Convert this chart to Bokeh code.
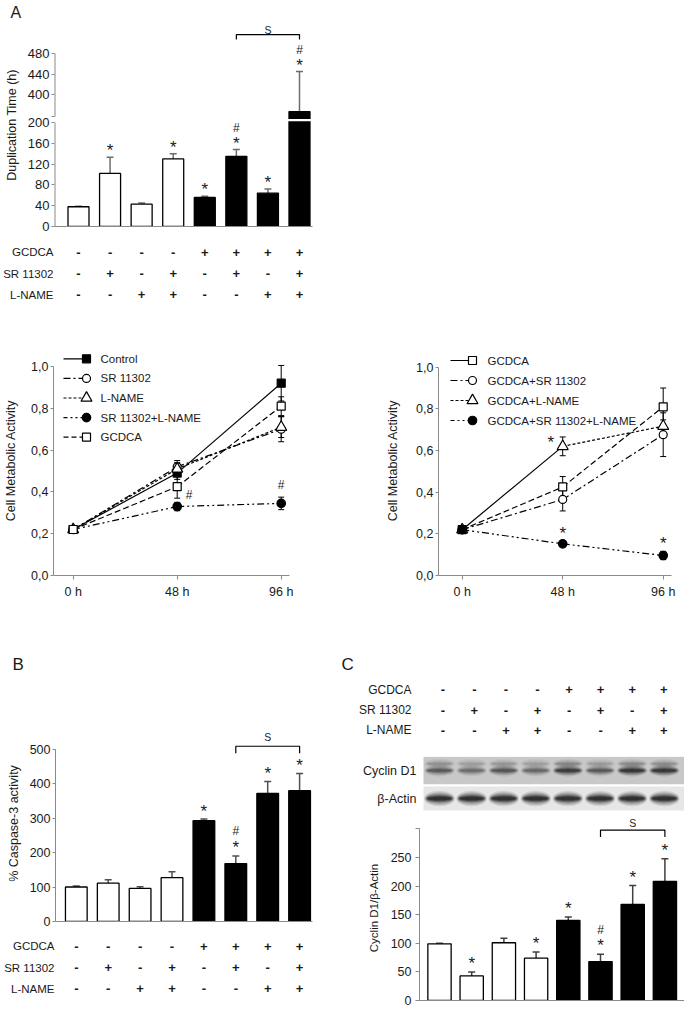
from bokeh.plotting import figure
from bokeh.layouts import column, row
from bokeh.models import (Range1d, FactorRange, FixedTicker, ColumnDataSource, Whisker,
                          TeeHead, CustomJSTickFormatter, Spacer)
from bokeh.transform import dodge
from bokeh.core.properties import value
from bokeh.embed import file_html
from bokeh.resources import INLINE

FONT = "Liberation Sans"
GRAY = "#8a8a8a"
INK = "#1a1a1a"

# ---------------- data ----------------
conditions = ["GCDCA", "SR 11302", "L-NAME"]
gcdca_on = ["-", "-", "-", "-", "+", "+", "+", "+"]
sr_on = ["-", "+", "-", "+", "-", "+", "-", "+"]
lname_on = ["-", "-", "+", "+", "-", "-", "+", "+"]

# Panel A: duplication time (h), broken axis 200 -> 400
dup_time = [38, 102, 43, 130, 56, 135, 64, 368]
dup_err = [1, 31, 2, 10, 2, 13, 8, 77]
dup_star = [0, 1, 0, 1, 1, 1, 1, 1]
dup_hash = [0, 0, 0, 0, 0, 1, 0, 1]
dup_ticks_low = [0, 40, 80, 120, 160, 200]
dup_ticks_high = [400, 440, 480]
dup_upper_start = 358
dup_sig_pair = [5, 7]
dup_sig_level = 516

# Panel A: cell metabolic activity
hours = [0, 48, 96]
act_ticks = [0.0, 0.2, 0.4, 0.6, 0.8, 1.0]

ctrl = [0.22, 0.49, 0.92]
ctrl_err = [0.01, 0.03, 0.085]
sr = [0.22, 0.52, 0.70]
sr_err = [0.01, 0.03, 0.06]
lname = [0.22, 0.51, 0.71]
lname_err = [0.01, 0.03, 0.05]
sr_lname = [0.22, 0.33, 0.345]
sr_lname_err = [0.01, 0.02, 0.03]
gc = [0.22, 0.425, 0.81]
gc_err = [0.01, 0.055, 0.045]

gc2 = [0.22, 0.425, 0.81]
gc2_err = [0.01, 0.05, 0.09]
gc_sr = [0.22, 0.365, 0.676]
gc_sr_err = [0.01, 0.055, 0.105]
gc_lname = [0.22, 0.62, 0.717]
gc_lname_err = [0.01, 0.045, 0.03]
gc_sr_lname = [0.22, 0.152, 0.096]
gc_sr_lname_err = [0.01, 0.01, 0.02]

# Panel B: caspase-3
casp = [100, 111, 96, 127, 292, 168, 371, 379]
casp_err = [3, 10, 5, 17, 5, 22, 35, 50]
casp_star = [0, 0, 0, 0, 1, 1, 1, 1]
casp_hash = [0, 0, 0, 0, 0, 1, 0, 0]
casp_ticks = [0, 100, 200, 300, 400, 500]
casp_sig_pair = [5, 7]
casp_sig_level = 508

# Panel C: cyclin D1 / beta-actin
cyc = [99, 43, 101, 74, 140, 68, 168, 208]
cyc_err = [1, 7, 8, 11, 6, 13, 33, 40]
cyc_star = [0, 1, 0, 1, 1, 1, 1, 1]
cyc_hash = [0, 0, 0, 0, 0, 1, 0, 0]
cyc_ticks = [0, 50, 100, 150, 200, 250, 300]
cyc_sig_pair = [5, 7]
cyc_sig_level = 298

blot_rows = ["Cyclin D1", "β-Actin"]
cyclin_band = [0.55, 0.42, 0.58, 0.46, 0.80, 0.55, 0.85, 0.84]
cyclin_upper = [0.22, 0.16, 0.20, 0.16, 0.28, 0.18, 0.26, 0.24]
actin_band = [1.0, 1.0, 1.0, 1.0, 0.97, 1.0, 1.0, 1.0]


# ---------------- helpers ----------------
def base_fig(g, xr, yr, **kw):
    p = figure(width=g["w"], height=g["h"], x_range=xr, y_range=yr,
               output_backend="svg", toolbar_location=None, title_location=None,
               min_border_left=g["fl"] - g["x"], min_border_right=g["x"] + g["w"] - g["fr"],
               min_border_top=g["ft"] - g["y"], min_border_bottom=g["y"] + g["h"] - g["fb"], **kw)
    p.outline_line_color = None
    p.grid.visible = False
    p.background_fill_color = "white"
    p.border_fill_color = "white"
    return p


def style_axis(ax, size="12.5px"):
    ax.axis_line_color = GRAY
    ax.major_tick_line_color = GRAY
    ax.minor_tick_line_color = None
    ax.major_tick_in = 0
    ax.major_tick_out = 3
    ax.major_label_text_font = FONT
    ax.major_label_text_font_size = size
    ax.major_label_text_color = INK
    ax.major_label_standoff = 2
    ax.axis_label_text_font = FONT
    ax.axis_label_text_font_style = "normal"
    ax.axis_label_text_font_size = "12.5px"
    ax.axis_label_text_color = INK


def txt(p, x, y, t, size, align="center", baseline="middle", style="normal"):
    p.text(x=x, y=y, text=t, text_font=value(FONT), text_font_size=size,
           text_font_style=style, text_align=align, text_baseline=baseline, text_color=INK)


def letter_fig(x, y, w, h, t, tx, ty, size="17px", baseline="alphabetic"):
    p = figure(width=w, height=h, x_range=Range1d(0, w), y_range=Range1d(h, 0),
               x_axis_location=None, y_axis_location=None, output_backend="svg",
               toolbar_location=None, title_location=None, min_border=0, min_border_left=0,
               min_border_right=0, min_border_top=0, min_border_bottom=0)
    p.outline_line_color = None
    p.grid.visible = False
    txt(p, [tx - x], [ty - y], [t], size, align="left", baseline=baseline)
    return p


def bar_panel(g, vals, errs, stars, hashes, pair, level, ylabel, ticks, bounds,
              overrides=None, disp=lambda v: v, err_color="#505050", tick_size="12.5px"):
    xr = Range1d(-(g["c0"] - g["fl"]) / g["step"], (g["fr"] - g["c0"]) / g["step"])
    yr = Range1d(0, (g["fb"] - g["ft"]) / g["ys"])
    p = base_fig(g, xr, yr)
    u = 1.0 / g["ys"]
    xs = list(range(len(vals)))
    tops = [disp(v) for v in vals]
    ups = [disp(v + e) for v, e in zip(vals, errs)]
    fills = ["black" if s == "+" else "white" for s in gcdca_on]
    src = ColumnDataSource(dict(x=xs, top=tops, up=ups, fill=fills))
    p.vbar(x="x", top="top", bottom=0, width=g["bw"] / g["step"], fill_color="fill",
           line_color="black", line_width=1.3, source=src)
    p.add_layout(Whisker(base="x", upper="up", lower="top", source=src, line_color=err_color,
                         line_width=1.5, lower_head=None,
                         upper_head=TeeHead(size=7, line_color=err_color, line_width=1.5)))
    sx = [i for i in xs if stars[i]]
    sy = [ups[i] + (g["star_gap"] - 4) * u for i in xs if stars[i]]
    txt(p, sx, sy, ["*"] * len(sx), "17px")
    hx = [i for i in xs if hashes[i]]
    hy = [ups[i] + g["hash_gap"] * u for i in xs if hashes[i]]
    txt(p, hx, hy, ["#"] * len(hx), "12px")
    a, b = pair
    lv = disp(level)
    drop = g["drop"] * u
    p.line(x=[a, a, b, b], y=[lv - drop, lv, lv, lv - drop], line_color="black", line_width=1.2)
    txt(p, [(a + b) / 2], [lv + g["s_gap"] * u], ["S"], "10.5px")

    ya = p.yaxis[0]
    style_axis(ya, tick_size)
    ya.ticker = FixedTicker(ticks=ticks)
    ya.bounds = bounds
    if overrides:
        ya.major_label_overrides = overrides
    ya.axis_label = ylabel
    ya.axis_label_standoff = g["als"]
    xa = p.xaxis[0]
    style_axis(xa)
    xa.ticker = FixedTicker(ticks=[])
    xa.major_label_text_font_size = "0px"
    xa.major_tick_out = 0
    xa.major_label_standoff = 0
    return p


def cat_axis(p, standoff, size):
    ax = p.yaxis[0]
    ax.axis_line_color = None
    ax.major_tick_line_color = None
    ax.minor_tick_line_color = None
    ax.major_tick_in = 0
    ax.major_tick_out = 0
    ax.major_label_standoff = standoff
    ax.major_label_text_font = FONT
    ax.major_label_text_font_size = size
    ax.major_label_text_color = INK
    p.xaxis.visible = False


def table_panel(g, rows, flags_list):
    xr = Range1d(-(g["c0"] - g["fl"]) / g["step"], (g["fr"] - g["c0"]) / g["step"])
    yr = FactorRange(factors=rows[::-1])
    p = base_fig(g, xr, yr)
    cat_axis(p, g["fl"] - g["lr"], g["fs"])
    for name, flags in zip(rows, flags_list):
        txt(p, list(range(len(flags))), [name] * len(flags), flags, "13px", style="bold")
    return p


def line_panel(g, series, ylabel, marks):
    xr = Range1d(-(g["x0"] - g["fl"]) / g["xs"], (g["fr"] - g["x0"]) / g["xs"])
    yr = Range1d(0, (g["fb"] - g["ft"]) / g["ys"])
    p = base_fig(g, xr, yr)
    ux = 1.0 / g["xs"]
    uy = 1.0 / g["ys"]

    def X(px):
        return xr.start + (px - g["fl"]) * ux

    def Y(py):
        return (g["fb"] - py) * uy

    for s in series:
        for k in range(len(hours) - 1):
            p.line(hours[k:k + 2], s["vals"][k:k + 2], line_dash=s["dash"][k],
                   line_color="black", line_width=1.2)
    cap = 3 * ux
    for s in series:
        lo = [v - e for v, e in zip(s["vals"], s["errs"])]
        hi = [v + e for v, e in zip(s["vals"], s["errs"])]
        p.segment(x0=hours, y0=lo, x1=hours, y1=hi, line_color="black", line_width=1)
        p.segment(x0=[h - cap for h in hours], y0=hi, x1=[h + cap for h in hours], y1=hi,
                  line_color="black", line_width=1)
        p.segment(x0=[h - cap for h in hours], y0=lo, x1=[h + cap for h in hours], y1=lo,
                  line_color="black", line_width=1)
    for s in series:
        p.scatter(hours, s["vals"], marker=s["marker"], size=s["size"], fill_color=s["fill"],
                  line_color="black", line_width=1.2)
    # legend
    for k, s in enumerate(series):
        ly = Y(g["ly0"] + k * g["ldy"])
        p.line([X(g["lx0"]), X(g["lx1"])], [ly, ly], line_dash=s["leg_dash"],
               line_color="black", line_width=1.2)
        p.scatter([X(g["lx1"])], [ly], marker=s["marker"], size=s["size"], fill_color=s["fill"],
                  line_color="black", line_width=1.2)
        txt(p, [X(g["ltx"])], [ly], [s["name"]], "11.5px", align="left")
    # significance marks
    for (si, hi_idx, sym, dx, dy) in marks:
        s = series[si]
        top = s["vals"][hi_idx] + s["errs"][hi_idx]
        off = 4 if sym == "*" else 0
        txt(p, [hours[hi_idx] + dx * ux], [top + (dy - off) * uy], [sym],
            "17px" if sym == "*" else "12px")

    ya = p.yaxis[0]
    style_axis(ya)
    ya.ticker = FixedTicker(ticks=act_ticks)
    ya.bounds = (act_ticks[0], act_ticks[-1])
    ya.formatter = CustomJSTickFormatter(code="return tick.toFixed(1).replace('.', ',');")
    ya.axis_label = ylabel
    ya.axis_label_standoff = g["als"]
    xa = p.xaxis[0]
    style_axis(xa)
    xa.ticker = FixedTicker(ticks=hours)
    xa.formatter = CustomJSTickFormatter(code="return tick + ' h';")
    xa.major_tick_out = 4
    xa.major_label_standoff = 5
    return p


# ---------------- Panel A: duplication time ----------------
shift = dup_ticks_high[0] - (dup_ticks_low[-1] + 53)


def dup_disp(v):
    return v if v <= dup_ticks_low[-1] else v - shift


pA0 = letter_fig(0, 0, 684, 23, "A", 10, 11.5, size="16px", baseline="middle")

gA1 = dict(x=0, y=23, w=348, h=213, fl=54, fr=312, ft=23, fb=226, c0=78, step=31.57, bw=21,
           ys=0.52, star_gap=10.5, hash_gap=22, drop=5, s_gap=5, als=6)
a_ticks = dup_ticks_low + [dup_disp(dup_upper_start)] + [dup_disp(t) for t in dup_ticks_high]
a_over = {dup_disp(t): str(t) for t in dup_ticks_high}
a_over[dup_disp(dup_upper_start)] = ""
pA1 = bar_panel(gA1, dup_time, dup_err, dup_star, dup_hash, dup_sig_pair, dup_sig_level,
                "Duplication Time (h)", a_ticks, (0, dup_disp(dup_ticks_high[-1])),
                overrides=a_over, disp=dup_disp, err_color="#6e6e6e", tick_size="13px")
# broken y axis line
pA1.yaxis[0].axis_line_color = None
x_left = pA1.x_range.start
pA1.segment(x0=[x_left, x_left], x1=[x_left, x_left],
            y0=[0, dup_disp(dup_upper_start)],
            y1=[dup_ticks_low[-1], dup_disp(dup_ticks_high[-1])],
            line_color=GRAY, line_width=2)
# white break across the truncated bar
brk = [i for i, v in enumerate(dup_time) if v > dup_ticks_low[-1]]
pA1.rect(x=brk, y=[dup_ticks_low[-1] + 4.5] * len(brk), width=gA1["bw"] / gA1["step"] * 1.1,
         height=4.5, fill_color="white", line_color=None)

gA2 = dict(x=0, y=236, w=348, h=76, fl=54, fr=312, ft=241, fb=305, c0=78, step=31.57, lr=53,
           fs="11.5px")
pA2 = table_panel(gA2, conditions, [gcdca_on, sr_on, lname_on])

# ---------------- Panel A: metabolic activity ----------------
series1 = [
    dict(name="Control", vals=ctrl, errs=ctrl_err, dash=["solid", "solid"], leg_dash="solid",
         marker="square", size=8, fill="black"),
    dict(name="SR 11302", vals=sr, errs=sr_err, dash=["7 3 2 3", "7 3 2 3"], leg_dash="7 3 2 3",
         marker="circle", size=8, fill="white"),
    dict(name="L-NAME", vals=lname, errs=lname_err, dash=["3 2", "3 2"], leg_dash="3 2",
         marker="triangle", size=11, fill="white"),
    dict(name="SR 11302+L-NAME", vals=sr_lname, errs=sr_lname_err,
         dash=["7 3 2 3 2 3", "7 3 2 3 2 3"], leg_dash="4 3 2 3 2 3", marker="circle", size=8.5,
         fill="black"),
    dict(name="GCDCA", vals=gc, errs=gc_err, dash=["6 3", "6 3"], leg_dash="5 3",
         marker="square", size=8, fill="white"),
]
gL1 = dict(x=0, y=312, w=348, h=306, fl=53, fr=289, ft=345, fb=575, x0=72.7, xs=104 / 48, ys=209,
           lx0=63, lx1=86, ltx=100, ly0=358.3, ldy=19.6, als=10)
marks1 = [(3, 1, "#", 12, 7.5), (3, 2, "#", 0, 12)]
pL1 = line_panel(gL1, series1, "Cell Metabolic Activity", marks1)

series2 = [
    dict(name="GCDCA", vals=gc2, errs=gc2_err, dash=["6 3", "6 3"], leg_dash="solid",
         marker="square", size=8, fill="white"),
    dict(name="GCDCA+SR 11302", vals=gc_sr, errs=gc_sr_err, dash=["7 3 2 3", "7 3 2 3"],
         leg_dash="7 3 2 3", marker="circle", size=8, fill="white"),
    dict(name="GCDCA+L-NAME", vals=gc_lname, errs=gc_lname_err, dash=["solid", "3 2"],
         leg_dash="3 2", marker="triangle", size=11, fill="white"),
    dict(name="GCDCA+SR 11302+L-NAME", vals=gc_sr_lname, errs=gc_sr_lname_err,
         dash=["7 3 2 3 2 3", "7 3 2 3 2 3"], leg_dash="4 3 2 3 2 3", marker="circle", size=8.5,
         fill="black"),
]
gL2 = dict(x=348, y=312, w=336, h=306, fl=438, fr=671, ft=345, fb=575, x0=461.7, xs=100.5 / 48,
           ys=208.3, lx0=450, lx1=472, ltx=487, ly0=360, ldy=20, als=13)
marks2 = [(2, 1, "*", -12, -2), (3, 1, "*", 0, 12), (3, 2, "*", 0, 12)]
pL2 = line_panel(gL2, series2, "Cell Metabolic Activity", marks2)

# ---------------- Panel letters B / C ----------------
pB0 = letter_fig(0, 618, 338, 60, "B", 12, 664)
pC0 = letter_fig(338, 618, 346, 60, "C", 341, 664)

# ---------------- Panel B ----------------
gB1 = dict(x=0, y=678, w=338, h=253, fl=55, fr=312, ft=725, fb=921, c0=75.8, step=31.9, bw=21.7,
           ys=0.345, star_gap=12, hash_gap=25, drop=7, s_gap=9.7, als=6)
pB1 = bar_panel(gB1, casp, casp_err, casp_star, casp_hash, casp_sig_pair, casp_sig_level,
                "% Caspase-3 activity", casp_ticks, (0, casp_ticks[-1]))
gB2 = dict(x=0, y=931, w=338, h=77, fl=55, fr=312, ft=935, fb=999, c0=75.8, step=31.9, lr=54,
           fs="11.5px")
pB2 = table_panel(gB2, conditions, [gcdca_on, sr_on, lname_on])

# ---------------- Panel C ----------------
gC1 = dict(x=338, y=678, w=346, h=64, fl=419, fr=684, ft=679, fb=740, c0=442.3, step=31.57,
           lr=411, fs="12px")
pC1 = table_panel(gC1, conditions, [gcdca_on, sr_on, lname_on])

gC2 = dict(x=338, y=742, w=346, h=73, fl=419, fr=684, ft=756, fb=812, c0=439, step=32.1,
           lr=416, box_left=423)
xr2 = Range1d(-(gC2["c0"] - gC2["fl"]) / gC2["step"], (gC2["fr"] - gC2["c0"]) / gC2["step"])
yr2 = FactorRange(factors=blot_rows[::-1])
pC2 = base_fig(gC2, xr2, yr2)
cat_axis(pC2, gC2["fl"] - gC2["lr"], "12.5px")
box_left = xr2.start + (gC2["box_left"] - gC2["fl"]) / gC2["step"]
pC2.hbar(y=blot_rows, left=box_left, right=xr2.end, height=[0.975, 0.86],
         fill_color=["#c8c8c8", "#e6e6e6"], line_color=None)
lanes = list(range(len(cyclin_band)))
bands = [("Cyclin D1", cyclin_band, 0.0, 1.0), ("Cyclin D1", cyclin_upper, 0.24, 0.85),
         ("β-Actin", actin_band, 0.0, 1.25)]
layers = [(0.95, 0.44, 0.10), (0.91, 0.36, 0.14), (0.87, 0.29, 0.18), (0.83, 0.22, 0.24),
          (0.79, 0.16, 0.30), (0.75, 0.10, 0.36)]
for rname, dark, off, thick in bands:
    for (w, h, a) in layers:
        bs = ColumnDataSource(dict(lane=lanes, row=[rname] * len(lanes), a=[d * a for d in dark]))
        pC2.ellipse(x="lane", y=dodge("row", off, range=yr2), width=w, height=h * thick,
                    fill_color="black", fill_alpha="a", line_color=None, source=bs)

gC3 = dict(x=338, y=815, w=346, h=193, fl=419, fr=684, ft=815, fb=1000, c0=439, step=32.2, bw=23.3,
           ys=0.572, star_gap=12.5, hash_gap=24.5, drop=7, s_gap=6.7, als=8)
pC3 = bar_panel(gC3, cyc, cyc_err, cyc_star, cyc_hash, cyc_sig_pair, cyc_sig_level,
                "Cyclin D1/β-Actin", cyc_ticks, (0, cyc_ticks[-1]),
                overrides={cyc_ticks[-1]: ""}, err_color="#404040")
pC3.yaxis[0].axis_label_text_font_size = "11.5px"
pC3.yaxis[0].major_tick_out = 4
pC3.yaxis[0].major_label_standoff = 4

layout = column(
    pA0,
    row(column(pA1, pA2, spacing=0), Spacer(width=336, height=289), spacing=0),
    row(pL1, pL2, spacing=0),
    row(pB0, pC0, spacing=0),
    row(column(pB1, pB2, spacing=0), column(pC1, pC2, pC3, spacing=0), spacing=0),
    spacing=0,
)

open("out.html", "w").write(file_html(layout, INLINE))
